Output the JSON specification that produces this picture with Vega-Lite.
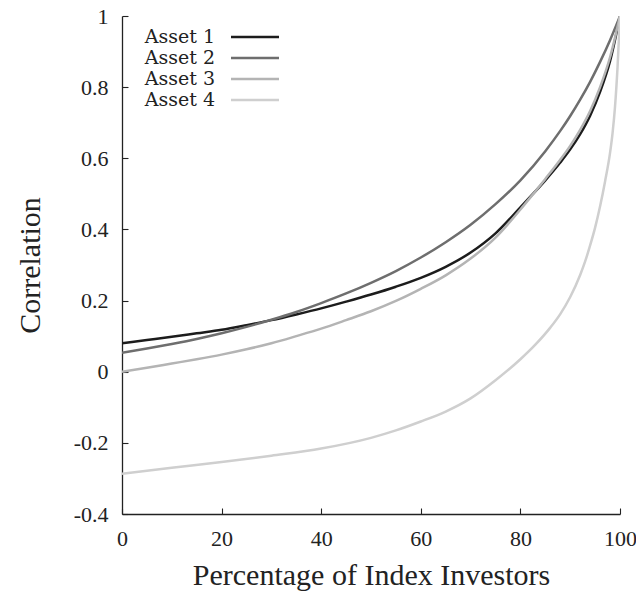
{
  "$schema": "https://vega.github.io/schema/vega-lite/v6.json",
  "width": 498,
  "height": 498,
  "autosize": "none",
  "padding": {"left": 122, "top": 16, "right": 16, "bottom": 77},
  "background": "white",
  "config": {
    "font": "Liberation Serif",
    "view": {"stroke": null},
    "axis": {"grid": false, "domainColor": "#222222", "tickColor": "#222222", "labelColor": "#222222", "titleColor": "#222222", "domainWidth": 1.3, "tickWidth": 1.1, "labelFont": "Liberation Serif", "titleFont": "Liberation Serif", "titleFontWeight": "normal"},
    "legend": {"labelFont": "DejaVu Serif"}
  },
  "data": {"values": [
    {"x": 0, "asset": "Asset 1", "y": 0.080}, {"x": 5, "asset": "Asset 1", "y": 0.089}, {"x": 10, "asset": "Asset 1", "y": 0.098}, {"x": 15, "asset": "Asset 1", "y": 0.108}, {"x": 20, "asset": "Asset 1", "y": 0.118}, {"x": 25, "asset": "Asset 1", "y": 0.131}, {"x": 30, "asset": "Asset 1", "y": 0.145}, {"x": 35, "asset": "Asset 1", "y": 0.161}, {"x": 40, "asset": "Asset 1", "y": 0.178}, {"x": 45, "asset": "Asset 1", "y": 0.197}, {"x": 50, "asset": "Asset 1", "y": 0.217}, {"x": 55, "asset": "Asset 1", "y": 0.239}, {"x": 60, "asset": "Asset 1", "y": 0.264}, {"x": 65, "asset": "Asset 1", "y": 0.295}, {"x": 70, "asset": "Asset 1", "y": 0.335}, {"x": 75, "asset": "Asset 1", "y": 0.389}, {"x": 80, "asset": "Asset 1", "y": 0.462}, {"x": 82, "asset": "Asset 1", "y": 0.492}, {"x": 85, "asset": "Asset 1", "y": 0.538}, {"x": 88, "asset": "Asset 1", "y": 0.588}, {"x": 90, "asset": "Asset 1", "y": 0.625}, {"x": 92, "asset": "Asset 1", "y": 0.668}, {"x": 94, "asset": "Asset 1", "y": 0.720}, {"x": 96, "asset": "Asset 1", "y": 0.787}, {"x": 98, "asset": "Asset 1", "y": 0.873}, {"x": 100, "asset": "Asset 1", "y": 1.0},
    {"x": 0, "asset": "Asset 2", "y": 0.053}, {"x": 5, "asset": "Asset 2", "y": 0.065}, {"x": 10, "asset": "Asset 2", "y": 0.078}, {"x": 15, "asset": "Asset 2", "y": 0.092}, {"x": 20, "asset": "Asset 2", "y": 0.108}, {"x": 25, "asset": "Asset 2", "y": 0.126}, {"x": 30, "asset": "Asset 2", "y": 0.146}, {"x": 35, "asset": "Asset 2", "y": 0.168}, {"x": 40, "asset": "Asset 2", "y": 0.193}, {"x": 45, "asset": "Asset 2", "y": 0.220}, {"x": 50, "asset": "Asset 2", "y": 0.250}, {"x": 55, "asset": "Asset 2", "y": 0.283}, {"x": 60, "asset": "Asset 2", "y": 0.321}, {"x": 65, "asset": "Asset 2", "y": 0.364}, {"x": 70, "asset": "Asset 2", "y": 0.413}, {"x": 75, "asset": "Asset 2", "y": 0.471}, {"x": 80, "asset": "Asset 2", "y": 0.538}, {"x": 85, "asset": "Asset 2", "y": 0.620}, {"x": 88, "asset": "Asset 2", "y": 0.677}, {"x": 90, "asset": "Asset 2", "y": 0.719}, {"x": 92, "asset": "Asset 2", "y": 0.765}, {"x": 94, "asset": "Asset 2", "y": 0.815}, {"x": 96, "asset": "Asset 2", "y": 0.871}, {"x": 98, "asset": "Asset 2", "y": 0.932}, {"x": 100, "asset": "Asset 2", "y": 1.0},
    {"x": 0, "asset": "Asset 3", "y": 0.0}, {"x": 5, "asset": "Asset 3", "y": 0.011}, {"x": 10, "asset": "Asset 3", "y": 0.023}, {"x": 15, "asset": "Asset 3", "y": 0.035}, {"x": 20, "asset": "Asset 3", "y": 0.048}, {"x": 25, "asset": "Asset 3", "y": 0.063}, {"x": 30, "asset": "Asset 3", "y": 0.080}, {"x": 35, "asset": "Asset 3", "y": 0.100}, {"x": 40, "asset": "Asset 3", "y": 0.121}, {"x": 45, "asset": "Asset 3", "y": 0.145}, {"x": 50, "asset": "Asset 3", "y": 0.170}, {"x": 55, "asset": "Asset 3", "y": 0.199}, {"x": 60, "asset": "Asset 3", "y": 0.233}, {"x": 65, "asset": "Asset 3", "y": 0.271}, {"x": 70, "asset": "Asset 3", "y": 0.318}, {"x": 75, "asset": "Asset 3", "y": 0.377}, {"x": 80, "asset": "Asset 3", "y": 0.456}, {"x": 82, "asset": "Asset 3", "y": 0.490}, {"x": 85, "asset": "Asset 3", "y": 0.542}, {"x": 88, "asset": "Asset 3", "y": 0.596}, {"x": 90, "asset": "Asset 3", "y": 0.635}, {"x": 92, "asset": "Asset 3", "y": 0.680}, {"x": 94, "asset": "Asset 3", "y": 0.733}, {"x": 96, "asset": "Asset 3", "y": 0.800}, {"x": 98, "asset": "Asset 3", "y": 0.884}, {"x": 100, "asset": "Asset 3", "y": 1.0},
    {"x": 0, "asset": "Asset 4", "y": -0.287}, {"x": 10, "asset": "Asset 4", "y": -0.270}, {"x": 20, "asset": "Asset 4", "y": -0.254}, {"x": 30, "asset": "Asset 4", "y": -0.236}, {"x": 40, "asset": "Asset 4", "y": -0.216}, {"x": 50, "asset": "Asset 4", "y": -0.186}, {"x": 55, "asset": "Asset 4", "y": -0.165}, {"x": 60, "asset": "Asset 4", "y": -0.140}, {"x": 65, "asset": "Asset 4", "y": -0.112}, {"x": 70, "asset": "Asset 4", "y": -0.075}, {"x": 75, "asset": "Asset 4", "y": -0.024}, {"x": 80, "asset": "Asset 4", "y": 0.035}, {"x": 83, "asset": "Asset 4", "y": 0.076}, {"x": 86, "asset": "Asset 4", "y": 0.124}, {"x": 88, "asset": "Asset 4", "y": 0.162}, {"x": 90, "asset": "Asset 4", "y": 0.210}, {"x": 92, "asset": "Asset 4", "y": 0.272}, {"x": 93, "asset": "Asset 4", "y": 0.310}, {"x": 94, "asset": "Asset 4", "y": 0.355}, {"x": 95, "asset": "Asset 4", "y": 0.405}, {"x": 96, "asset": "Asset 4", "y": 0.465}, {"x": 97, "asset": "Asset 4", "y": 0.535}, {"x": 98, "asset": "Asset 4", "y": 0.615}, {"x": 98.5, "asset": "Asset 4", "y": 0.670}, {"x": 99, "asset": "Asset 4", "y": 0.745}, {"x": 99.5, "asset": "Asset 4", "y": 0.855}, {"x": 100, "asset": "Asset 4", "y": 1.0}
  ]},
  "mark": {"type": "line", "strokeWidth": 2.5, "interpolate": "monotone", "clip": true},
  "encoding": {
    "x": {"field": "x", "type": "quantitative", "scale": {"domain": [0, 100], "nice": false, "zero": false},
      "axis": {"title": "Percentage of Index Investors", "values": [0, 20, 40, 60, 80, 100], "tickSize": -6, "labelPadding": 20, "labelFont": "Liberation Serif", "labelFontSize": 22, "titleFontSize": 30, "titlePadding": 11, "labelFlush": false}},
    "y": {"field": "y", "type": "quantitative", "scale": {"domain": [-0.4, 1], "nice": false, "zero": false},
      "axis": {"title": "Correlation", "values": [-0.4, -0.2, 0, 0.2, 0.4, 0.6, 0.8, 1], "tickSize": -6, "labelPadding": 20, "labelFont": "Liberation Serif", "labelFontSize": 22, "titleFontSize": 30, "titlePadding": 28, "labelFlush": false,
        "labelExpr": "datum.value < 0 ? '-' + format(-datum.value, '.1~f') : format(datum.value, '.1~f')"}},
    "color": {"field": "asset", "type": "nominal",
      "scale": {"domain": ["Asset 1", "Asset 2", "Asset 3", "Asset 4"], "range": ["#1c1c1c", "#6e6e6e", "#b4b4b4", "#cfcfcf"]},
      "legend": {"title": null, "orient": "none", "legendX": 100, "legendY": 10, "padding": 0, "symbolType": "M-2.526,0H2.526", "symbolSize": 361, "symbolStrokeWidth": 2.5, "symbolOffset": 22, "labelOffset": -51, "labelAlign": "right", "labelFont": "DejaVu Serif", "labelFontSize": 19, "labelColor": "#222222", "rowPadding": 0, "labelBaseline": "middle"}}
  }
}
